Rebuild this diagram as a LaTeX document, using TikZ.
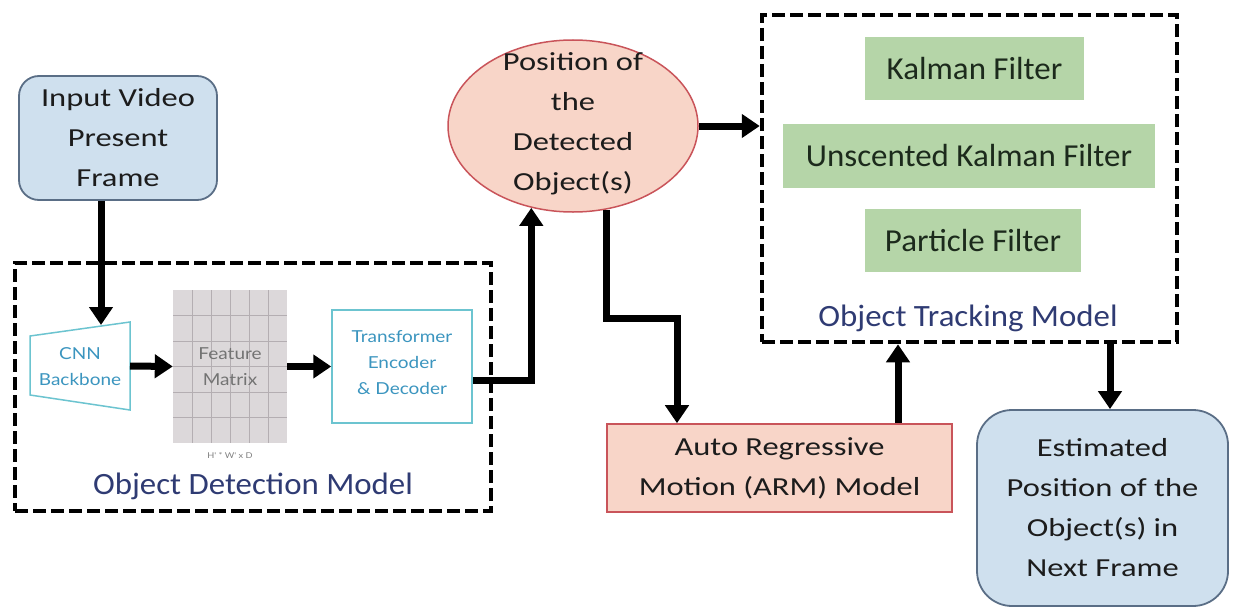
\documentclass[tikz,border=0pt]{standalone}
\usepackage{fontspec}
\setmainfont{Carlito}[FakeStretch=1.25]
\newfontfamily\labfont{Carlito}[FakeStretch=1.06]
\newfontfamily\filtfont{Carlito}[FakeStretch=1.03]
\newfontfamily\latofont{Lato}[FakeStretch=1.15]
\usetikzlibrary{arrows.meta,shapes.geometric,calc}
\definecolor{bluefill}{HTML}{CFE0EE}
\definecolor{blueline}{HTML}{5A6E86}
\definecolor{salmon}{HTML}{F8D5C8}
\definecolor{redline}{HTML}{C9545A}
\definecolor{greenfill}{HTML}{B5D5A8}
\definecolor{navy}{HTML}{2F3B73}
\definecolor{teal}{HTML}{6CC4D0}
\definecolor{tealtext}{HTML}{3B95BF}
\definecolor{gridfill}{HTML}{DCD8DA}
\definecolor{gridline}{HTML}{B4AEB2}
\definecolor{darktext}{HTML}{1C1C1C}
\definecolor{filtertext}{HTML}{1C2A1C}
\begin{document}
\begin{tikzpicture}[x=1pt,y=-1pt,
  maintext/.style={font=\fontsize{26}{40}\selectfont, text=darktext, align=center},
  bluebox/.style={draw=blueline, line width=1.8pt, fill=bluefill, rounded corners=20pt, inner sep=0pt, maintext},
  salmonbox/.style={draw=redline, line width=1.6pt, fill=salmon, inner sep=0pt, maintext},
  filterbox/.style={fill=greenfill, inner sep=0pt, font=\filtfont\fontsize{32}{36}\selectfont, text=filtertext},
  dashbox/.style={draw=black, line width=4.5pt, dash pattern=on 13pt off 5pt, inner sep=0pt},
  modellabel/.style={font=\labfont\fontsize{31}{36}\selectfont, text=navy},
  smalltext/.style={font=\latofont\fontsize{16.5}{26}\selectfont, align=center},
  arr/.style={draw=black, line width=7pt, -{Triangle[length=18pt,width=23pt]}}
]
\useasboundingbox (0,0) rectangle (1233,610);

% input
\node (in) [bluebox, minimum width=198pt, minimum height=124pt] at (118,138) {Input Video\\Present\\Frame};

% detection model frame
\node (det) [dashbox, minimum width=476pt, minimum height=248pt] at (253,387) {};
\node (detlab) [modellabel] at (253,486) {Object Detection Model};

% CNN trapezoid
\draw[draw=teal, line width=1.5pt, fill=white] (30,336) -- (130,322) -- (130,410) -- (30,395) -- cycle;
\node (cnn) [smalltext, text=tealtext] at (80,367) {CNN\\Backbone};
\coordinate (cnntop) at (101,325);
\coordinate (cnnR) at (130,366);

% feature matrix
\node (feat) [fill=gridfill, minimum width=114pt, minimum height=153pt, inner sep=0pt] at (230,366.5) {};
\foreach \i in {1,...,5} {
  \draw[gridline, line width=0.8pt] (173+19*\i,290) -- (173+19*\i,443);
  \draw[gridline, line width=0.8pt] (173,290+25.5*\i) -- (287,290+25.5*\i);
}
\node (featlab) [smalltext, text=black!55] at (230,367) {Feature\\Matrix};
\node (dims) [font=\latofont\fontsize{8}{9}\selectfont, text=black!50] at (230,455) {H' * W' x D};

% transformer
\node (trans) [draw=teal, line width=1.5pt, fill=white, minimum width=140pt, minimum height=113pt, inner sep=0pt] at (402,366.5) {};
\node (transtext) [smalltext, text=tealtext] at (402,363) {Transformer\\Encoder\\\& Decoder};

% position ellipse
\node (pos) [ellipse, draw=redline, line width=1.5pt, fill=salmon, minimum width=250pt, minimum height=172pt, inner sep=0pt] at (573,126) {};
\node (postext) [maintext] at (573,124) {Position of\\the\\Detected\\Object(s)};

% tracking model frame
\node (trk) [dashbox, minimum width=415pt, minimum height=327pt] at (969.5,178.5) {};
\node (kf) [filterbox, minimum width=219pt, minimum height=63pt] at (974.5,68.5) {Kalman Filter};
\node (ukf) [filterbox, minimum width=372pt, minimum height=64pt] at (969,156) {Unscented Kalman Filter};
\node (pf) [filterbox, minimum width=216pt, minimum height=63pt] at (973,240.5) {Particle Filter};
\node (trklab) [modellabel] at (968,318) {Object Tracking Model};

% ARM
\node (arm) [salmonbox, minimum width=345pt, minimum height=88pt] at (779.5,468) {Auto Regressive\\Motion (ARM) Model};

% estimated
\node (est) [bluebox, rounded corners=35pt, minimum width=251pt, minimum height=196pt] at (1102.5,508) {Estimated\\Position of the\\Object(s) in\\Next Frame};

% connectors
\coordinate (bend) at (677,318);
\draw[arr] (in.south -| cnntop) -- (cnntop);
\draw[arr] (cnnR) -- (feat.west);
\draw[arr] (feat.east) -- (trans.west);
\draw[arr] ([yshift=-14pt]trans.east) -| (pos.243);
\draw[arr] (pos.east) -- (pos.east -| trk.west);
\draw[arr] (pos.292) |- (bend) -- (bend |- arm.north);
\draw[arr] ([xshift=118.5pt]arm.north) -- ([xshift=118.5pt]arm.north |- trk.south);
\draw[arr] ([xshift=7.5pt]est.north |- trk.south) -- ([xshift=7.5pt]est.north);
\end{tikzpicture}
\end{document}
